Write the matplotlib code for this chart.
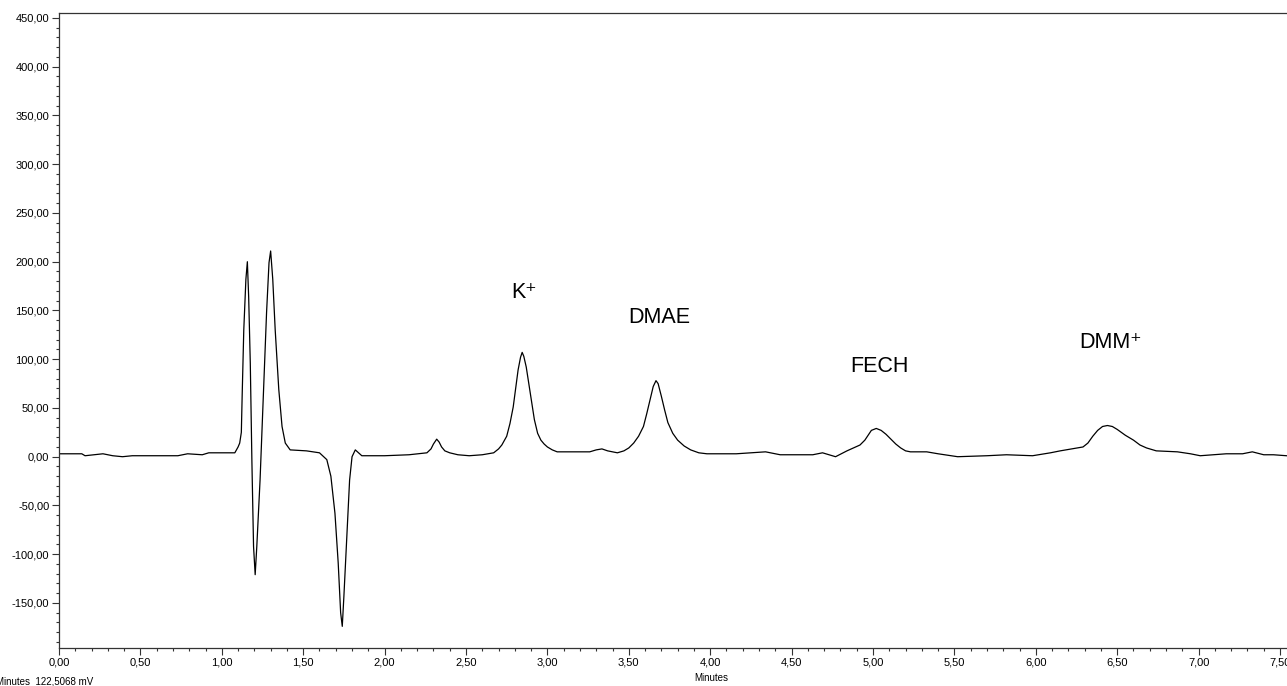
import matplotlib
matplotlib.use("Agg")
import matplotlib.pyplot as plt
from matplotlib.ticker import MultipleLocator, FuncFormatter

plt.rcParams['font.family'] = ['Liberation Sans', 'DejaVu Sans']

# chromatogram trace (minutes, mV)
time_min = [0.00, 0.14, 0.16, 0.27, 0.33, 0.39, 0.45, 0.73, 0.79, 0.88, 0.92, 1.08,
            1.10, 1.11, 1.12, 1.125, 1.135, 1.148, 1.157, 1.165, 1.175, 1.185, 1.195,
            1.205, 1.215, 1.235, 1.255, 1.275, 1.29, 1.30, 1.313, 1.328, 1.35, 1.37,
            1.39, 1.42, 1.52, 1.60, 1.645, 1.67, 1.695, 1.715, 1.73, 1.74, 1.75, 1.77,
            1.785, 1.80, 1.82, 1.84, 1.86, 2.00, 2.15, 2.26, 2.285, 2.30, 2.32, 2.335,
            2.35, 2.37, 2.40, 2.45, 2.52, 2.60, 2.67, 2.70, 2.72, 2.75, 2.77, 2.79,
            2.805, 2.82, 2.835, 2.845, 2.855, 2.87, 2.885, 2.905, 2.92, 2.94, 2.96,
            2.98, 3.00, 3.03, 3.06, 3.12, 3.26, 3.30, 3.335, 3.37, 3.43, 3.47, 3.50,
            3.53, 3.56, 3.59, 3.61, 3.63, 3.65, 3.667, 3.68, 3.70, 3.72, 3.74, 3.77,
            3.80, 3.84, 3.88, 3.93, 3.98, 4.16, 4.34, 4.43, 4.63, 4.69, 4.77, 4.84,
            4.88, 4.92, 4.95, 4.97, 4.99, 5.02, 5.05, 5.08, 5.11, 5.14, 5.17, 5.20,
            5.23, 5.33, 5.40, 5.52, 5.70, 5.82, 5.98, 6.09, 6.15, 6.29, 6.32, 6.35,
            6.38, 6.41, 6.44, 6.47, 6.50, 6.55, 6.60, 6.64, 6.68, 6.74, 6.87, 6.95,
            7.01, 7.17, 7.27, 7.33, 7.40, 7.46, 7.54]
signal_mv = [3, 3, 1, 3, 1, 0, 1, 1, 3, 2, 4, 4,
             10, 14, 25, 62, 130, 182, 200, 164, 96, -6, -92,
             -121, -92, -24, 62, 148, 199, 211, 182, 130, 69, 31,
             14, 7, 6, 4, -3, -20, -58, -109, -160, -174, -143, -75,
             -24, 0, 7, 4, 1, 1, 2, 4, 8, 13, 18, 15,
             10, 6, 4, 2, 1, 2, 4, 8, 12, 21, 34, 51,
             70, 89, 102, 107, 103, 92, 76, 55, 38, 24, 17,
             13, 10, 7, 5, 5, 5, 7, 8, 6, 4, 6, 9,
             14, 21, 31, 44, 58, 72, 78, 75, 62, 48, 35, 24,
             17, 11, 7, 4, 3, 3, 5, 2, 2, 4, 0, 6,
             9, 12, 17, 22, 27, 29, 27, 23, 18, 13, 9, 6,
             5, 5, 3, 0, 1, 2, 1, 4, 6, 10, 14, 21,
             27, 31, 32, 31, 28, 22, 17, 12, 9, 6, 5, 3,
             1, 3, 3, 5, 2, 2, 1]

peak_names = ['K⁺', 'DMAE', 'FECH', 'DMM⁺']
peak_label_t = [2.78, 3.495, 4.86, 6.265]
peak_label_v = [162.8, 137.0, 86.9, 111.5]

fig = plt.figure(figsize=(12.87, 6.86), dpi=100)
ax = fig.add_axes([59 / 1287, 38 / 686, 1228 / 1287, 635 / 686])

ax.plot(time_min, signal_mv, color='black', linewidth=0.9)

for name, t, v in zip(peak_names, peak_label_t, peak_label_v):
    ax.text(t, v, name, fontsize=15.5, ha='left', va='baseline')

ax.set_xlim(0, 7.543)
ax.set_ylim(-196.2, 455.1)

ax.xaxis.set_major_locator(MultipleLocator(0.5))
ax.xaxis.set_minor_locator(MultipleLocator(0.1))
ax.yaxis.set_major_locator(MultipleLocator(50))
ax.yaxis.set_minor_locator(MultipleLocator(10))

comma = FuncFormatter(lambda v, p: ('%.2f' % v).replace('.', ','))
ax.xaxis.set_major_formatter(comma)
ax.yaxis.set_major_formatter(comma)

ax.tick_params(which='major', direction='out', length=5, width=0.8,
               labelsize=8, pad=2, color='#333333')
ax.tick_params(which='minor', direction='out', length=2.5, width=0.8, color='#333333')

ax.spines['right'].set_visible(False)
for s in ['left', 'bottom', 'top']:
    ax.spines[s].set_linewidth(0.9)
    ax.spines[s].set_color('#333333')

fig.text(711 / 1287, 3 / 686, 'Minutes', fontsize=7, ha='center', va='bottom')
fig.text(-4 / 1287, 0 / 686, 'Minutes  122,5068 mV', fontsize=7, ha='left', va='bottom')

fig.savefig('out.png', dpi=100)
